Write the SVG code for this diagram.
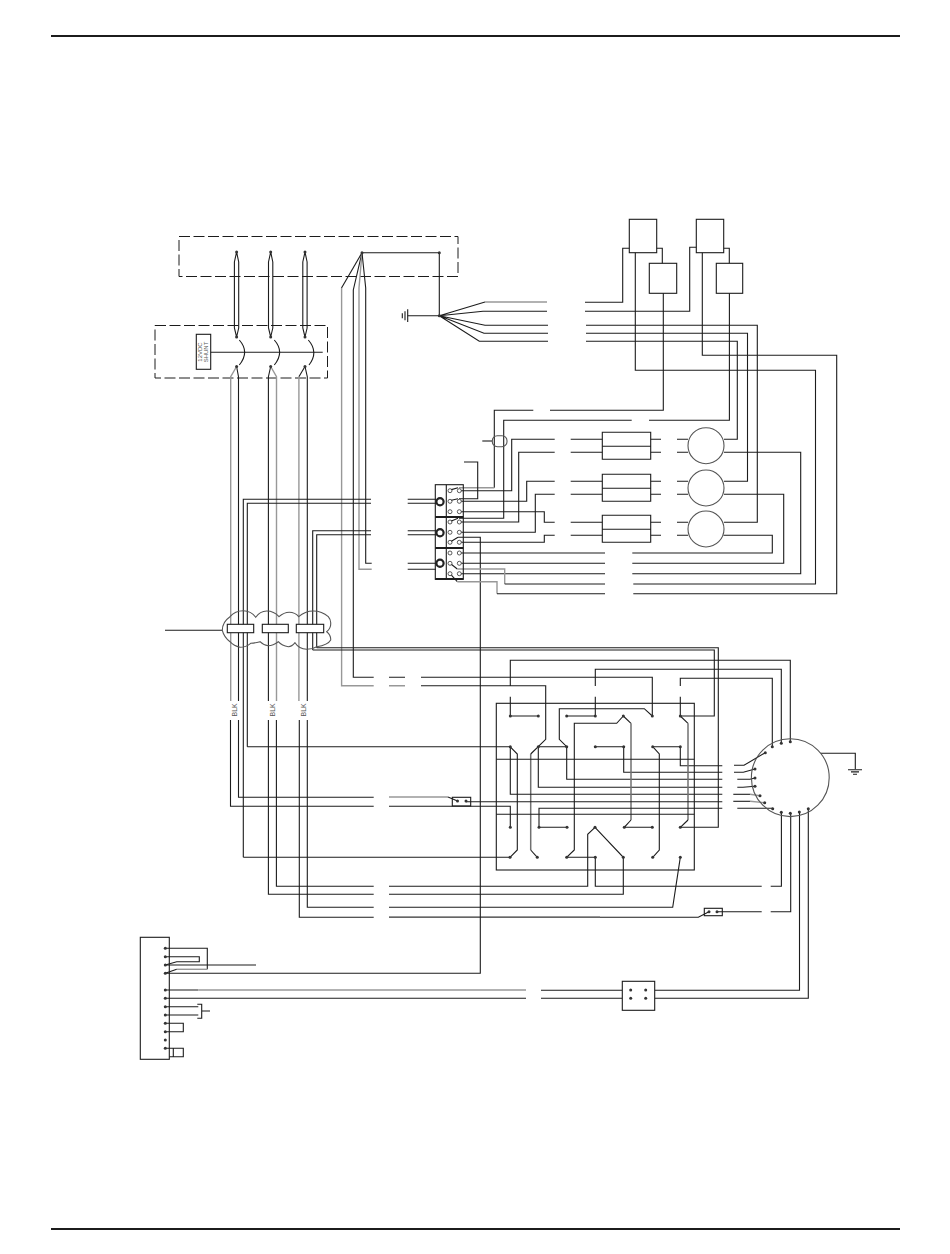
<svg xmlns="http://www.w3.org/2000/svg" width="950" height="1254" viewBox="0 0 950 1254">
<style>
.w{fill:none;stroke:#1c1c1c;stroke-width:1.1;stroke-linejoin:miter}
.g{fill:none;stroke:#989898;stroke-width:1.4}
.gt{fill:none;stroke:#707070;stroke-width:1.5}
.b{fill:#fff;stroke:#1c1c1c;stroke-width:1.1}
.nb{fill:none;stroke:#1c1c1c;stroke-width:1.1}
.d{fill:none;stroke:#1c1c1c;stroke-width:1;stroke-dasharray:11 3.5}
.c{fill:none;stroke:#555;stroke-width:1.1}
.t{fill:#fff;stroke:#333;stroke-width:.8}
.r{fill:#fff;stroke:#222;stroke-width:2.2}
.l{font-family:"Liberation Sans",Arial,sans-serif;fill:#555}
.f{fill:none;stroke:#1c1c1c;stroke-width:2}
circle.p{fill:#333;stroke:none}
</style>
<defs><circle id="p" class="p" r="1.5"/></defs>

<g id="page-rules">
<path class="f" d="M51 36H900M51 1229H900"/>
</g>

<g id="box-upper"><rect class="d" x="179" y="236.5" width="279" height="40"/></g>
<g id="box-lower"><rect class="d" x="155" y="325.5" width="172.5" height="52.5"/></g>

<g id="shunt">
<rect class="b" x="196.3" y="334.3" width="14.4" height="35"/>
<text class="l" font-size="6" transform="translate(201.5 352) rotate(-90)" text-anchor="middle">12VDC</text>
<text class="l" font-size="6" transform="translate(208.3 352) rotate(-90)" text-anchor="middle">SHUNT</text>
</g>

<g id="connectors">
<path class="w" d="M236.6 252L234.4 262V328L236.6 337M236.6 252L238.7 262V328L236.6 337"/>
<path class="w" d="M270.7 252L268.5 262V328L270.7 337M270.7 252L272.8 262V328L270.7 337"/>
<path class="w" d="M305 252L302.8 262V328L305 337M305 252L307.1 262V328L305 337"/>
<path class="w" d="M210.7 352.3H322.7"/>
<path class="w" d="M239.3 340Q250 352 239.3 365M274.3 340Q285 352 274.3 365M308.3 340Q319 352 309 365"/>
<path class="w" d="M236.6 366.5L238.5 376.7V701M238.5 720V797.3H373.7"/>
<path class="g" d="M236.6 366.5L230.7 376.7V701"/><path class="w" d="M230.5 720V806.3H373.7"/>
<path class="w" d="M270.7 366.5L268.4 376.7V701M268.4 720V894.3H373.7"/>
<path class="g" d="M270.7 366.5L276.5 376.7V701"/><path class="w" d="M276.4 720V886.3H373.7"/>
<path class="w" d="M305 366.5L298.9 376.7"/><path class="g" stroke-width="1.6" d="M298.9 376.7V701"/><path class="w" d="M299.3 720V917.3H373.7"/>
<path class="w" d="M305 366.5L307.3 376.7V701M307.3 720V907.3H373.7"/>
<path class="g" d="M389 797H448"/><path class="w" d="M448 797L457.5 801"/>
<path class="w" d="M389 806.3H510.3V827.3"/>
<path class="w" d="M389 886.3H587.7V834.3L595 827.3M595 827.3L623.3 857.3V894.3H389"/>
<path class="w" d="M389 907.3H672.7L680.3 857.3"/>
<path class="w" d="M389 917.3H698.3L709 911.7"/>
<path class="g" stroke-width=".8" d="M389 916.6H600"/>
<path class="w" d="M362 252.7H439.3V315.7H407.7"/>
<path class="w" d="M362 252.7L341.5 288"/><path class="g" d="M341.6 288V685.7H373.7M389 685.7H405"/>
<path class="w" d="M421 685.7H545.7V739.3L530.7 754"/><path class="gt" d="M530.7 754V850"/><path class="w" d="M530.7 850L537.3 857.3"/>
<path class="w" d="M362 252.7L353.3 290V677.3H373.7M389 677.3H405M421 677.3H652.3V716"/>
<path class="g" d="M362 252.7L359 288V569.3H371.7"/>
<path class="w" d="M362 252.7L365.7 288V563.3H371.7"/>
<path class="w" d="M407.7 563.3H436M407.7 569.3H436"/>
<path class="g" d="M485 302H547"/>
<path class="w" d="M439.3 315.7L485 302M439.3 315.7L483 311.3H547M439.3 315.7L485 325.3H548M439.3 315.7L484 333.3H548M439.3 315.7L479.3 341.3H548"/>
<path class="w" d="M585 302.3H622.7V248.3H629.3M585 311.3H689.7V247.3H696.3"/>
<path class="w" d="M656.7 248.3H662.3V263.3M723.7 248.3H729.3V263.3"/>
<path class="w" d="M586 325.3H757.3V522.3H724M586 333.3H747.5V481.3H724M586 341.3H737.3V439.3H724"/>
<path class="w" d="M635.3 252.7V370.3H815.5V584H633.3"/>
<path class="w" d="M702.3 252.7V355.3H836.7V593.7H633.3"/>
<path class="w" d="M663.3 293.3V410.3H550M533.3 410.3H494.3V487.7"/>
<path class="w" d="M729.4 293.3V420.3H649M631.7 420.3H503.7V518.3H459"/>
<path class="w" d="M482.3 441H492.3"/>
<path class="g" d="M459 487.7H494.3"/>
<path class="w" d="M461 490.7H511.7V439.3H554.7M570.7 439.3H602.3"/>
<path class="w" d="M461 501.3H526.7V481.3H554.7M570.7 481.3H602.3"/>
<path class="w" d="M459 498.7H477.7V462H464"/>
<path class="w" d="M461 511.7H544.3V522.3H554.7M570.7 522.3H602.3"/>
<path class="w" d="M461 522H518.7V452.3H554.7M570.7 452.3H602.3"/>
<path class="w" d="M461 532.3H535.3V494.3H554.7M570.7 494.3H602.3"/>
<path class="w" d="M461 542.3H544.3V535.3H554.7M570.7 535.3H602.3"/>
<path class="w" d="M458 537.3H480.3V973.3H165.3"/>
<path class="w" d="M461 553H605M632.3 553H772.3V535.3H723.5"/>
<path class="w" d="M461 563.3H605M632.3 563.3H783.7V494.3H724"/>
<path class="w" d="M461 573.7H605M632.3 573.7H800.7V452.3H724"/>
<path class="w" d="M450 563.3L457.3 569"/><path class="g" d="M457.3 569H504.7V584"/><path class="w" d="M504.7 584H605"/>
<path class="w" d="M450 573.7L457.3 581.7"/><path class="g" d="M457.3 581.7H497V593.7"/><path class="w" d="M497 593.7H605"/>
<path class="w" d="M650.7 439.3H661M677 439.3H688M650.7 452.3H661M677 452.3H688M650.7 481.3H661M677 481.3H688M650.7 494.3H661M677 494.3H688M650.7 522.3H661M677 522.3H688M650.7 535.3H661M677 535.3H688"/>
<path class="w" d="M243.3 857.3V499.3H371M407.7 499.3H436M243.3 857.3H510"/>
<path class="w" d="M247.3 746.7V503.3H371M407.7 503.3H436M247.3 746.7H510"/>
<path class="w" d="M312.7 650V530.7H371M407.7 530.7H436M312.7 650H714.3V716H680.3"/>
<path class="w" d="M316.7 647.7V534.7H371M407.7 534.7H436M316.7 647.7H718.3V827.3H680.3"/>
<path class="w" d="M165 630.3H222.3"/>
<path class="w" d="M510.3 686V660.3H790.3V741.7M595.3 686V669.3H781.3V743.3M680.3 686V678.3H772.3V746.7"/>
<path class="w" d="M510.3 696.7V716H538.3M595.3 696.7V716H566.7M680.3 696.7V716"/>
<path class="w" d="M652.3 716L644.3 708.7H559.3V739.3L566.7 746.7H538.3"/>
<path class="w" d="M566.7 746.7V779.3H722.3M538.3 746.7V787.3H722.3"/>
<path class="w" d="M510.3 746.7V794.3H722.3"/>
<path class="w" d="M595.3 746.7H623.7V772.3H722.3M652.7 746.7H680.3V765.7H722.3"/>
<path class="w" d="M510 746.7L517.3 754V850L510 857.3"/>
<path class="w" d="M652.7 746.7L659.3 754V850L652.7 857.3"/>
<path class="w" d="M680.3 716L688 723.3"/><path class="gt" d="M688 723.3V820"/><path class="w" d="M688 820L680.3 827.3"/>
<path class="w" d="M623.3 716L631 723.3"/><path class="gt" d="M631 723.3V820"/><path class="w" d="M631 820L624.3 827.3H652.3"/>
<path class="w" d="M623.3 716L616.7 723.3H574.3V850L566.7 857.3H595.3V886.3H761.7M770.7 886.3H781.4V812.3"/>
<path class="w" d="M539 827.3H567M539 827.3V808.3H722.3"/>
<path class="w" d="M466 801.7H722.3"/>
<path class="w" d="M496.3 759.3H694.3M496.3 814.3H694.3"/>
<path class="w" d="M734 765.3H744L765.3 752.7M734 772.3H743.3L755 769M737.3 779.3H750L755 778M737.3 787.3H743L755 786.3"/>
<path class="w" d="M733.3 794.3H750"/><path class="g" d="M750 794.3L760 795.7"/>
<path class="w" d="M733.3 801.3H750"/><path class="g" d="M750 801.3L764.7 802.7"/>
<path class="w" d="M737.3 808.3H772.7"/>
<path class="w" d="M820.7 753.3H855.3V769.3"/>
<path class="w" d="M717 911.7H761.7M770.7 911.7H790.7V813.3"/>
<path class="w" d="M799.5 812V990.3H654.7M622.3 990.3H541"/>
<path class="w" d="M808.3 808.7V998.3H654.7M622.3 998.3H541"/>
<path class="w" d="M165.3 948.3H207.3V969.3"/><path class="g" stroke-width="1.6" d="M207.3 969.3H176.7"/><path class="w" d="M176.7 969.3L165.3 973.3"/>
<path class="w" d="M165.3 956.7H199.3V961.7H176.7L165.3 965"/>
<path class="w" d="M165.3 965H256"/>
<path class="w" d="M165.3 990H198.3"/><path class="g" stroke-width="1.6" d="M198.3 990H526"/>
<path class="w" d="M165.3 998.3H526"/>
<path class="w" d="M165.3 1006.7H198.3M165.3 1015H198.3M197.3 1004.3H201.7V1018.3H197.3M201.7 1011H210"/>
<path class="w" d="M165.3 1023.3H183.3V1031.7H165.3"/>
<path class="w" d="M165.3 1048.3H183.3V1056.7H169.3M173.3 1048.3V1056.7"/>
</g>

<g id="ground-left"><path class="w" d="M407.7 309.3V322M405 311.3V320.3M402.3 313.3V318.3"/></g>
<g id="ground-right"><path class="w" d="M848 769.7H862M851 771.9H859M853 774.2H857"/></g>

<g id="lead-terminals">
<use href="#p" x="236.6" y="252"/><use href="#p" x="270.7" y="252"/><use href="#p" x="305" y="252"/>
<use href="#p" x="236.6" y="337"/><use href="#p" x="270.7" y="337"/><use href="#p" x="305" y="337"/>
<use href="#p" x="236.6" y="366.5"/><use href="#p" x="270.7" y="366.5"/><use href="#p" x="305" y="366.5"/>
<use href="#p" x="362" y="252.7"/><use href="#p" x="439.3" y="252.7"/><use href="#p" x="439.3" y="315.7"/>
</g>

<g id="labels-blk">
<text class="l" font-size="7" transform="translate(236.5 716.5) rotate(-90)">BLK</text>
<text class="l" font-size="7" transform="translate(274.7 716.5) rotate(-90)">BLK</text>
<text class="l" font-size="7" transform="translate(305.5 716.5) rotate(-90)">BLK</text>
</g>

<g id="relay-1a"><rect class="nb" x="629.3" y="219.3" width="27.4" height="33.4"/></g>
<g id="relay-1b"><rect class="nb" x="649.3" y="263.3" width="27.4" height="30"/></g>
<g id="relay-2a"><rect class="nb" x="696.3" y="219.3" width="27.4" height="33.4"/></g>
<g id="relay-2b"><rect class="nb" x="716.3" y="263.3" width="26.4" height="30"/></g>

<g id="fuse-holder"><rect class="c" x="492.3" y="435.7" width="14.7" height="11" rx="5"/></g>

<g id="coil-1"><path class="nb" d="M602.3 432.3H650.7V459.3H602.3ZM602.3 446.3H650.7"/></g>
<g id="coil-2"><path class="nb" d="M602.3 474.3H650.7V501.3H602.3ZM602.3 488.3H650.7"/></g>
<g id="coil-3"><path class="nb" d="M602.3 515.3H650.7V542.3H602.3ZM602.3 529.3H650.7"/></g>

<g id="capacitor-1"><circle class="c" cx="706" cy="445.7" r="18"/></g>
<g id="capacitor-2"><circle class="c" cx="706" cy="488" r="18"/></g>
<g id="capacitor-3"><circle class="c" cx="706" cy="529" r="18"/></g>

<g id="terminal-block">
<rect class="nb" x="435.3" y="484.7" width="28" height="94.6"/>
<path class="nb" d="M446.3 484.7V579.3"/>
<path class="f" d="M435.3 517H463.3M435.3 548H463.3M435.3 579H463.3"/>
<circle class="r" cx="440" cy="501.7" r="3.6"/><circle class="r" cx="440" cy="532.7" r="3.6"/><circle class="r" cx="440" cy="563.3" r="3.6"/>
<circle class="t" cx="450" cy="490.7" r="2"/><circle class="t" cx="459.3" cy="490.7" r="2"/>
<circle class="t" cx="450" cy="501.3" r="2"/><circle class="t" cx="459.3" cy="501.3" r="2"/>
<circle class="t" cx="450" cy="511.7" r="2"/><circle class="t" cx="459.3" cy="511.7" r="2"/>
<circle class="t" cx="450" cy="522" r="2"/><circle class="t" cx="459.3" cy="522" r="2"/>
<circle class="t" cx="450" cy="532.3" r="2"/><circle class="t" cx="459.3" cy="532.3" r="2"/>
<circle class="t" cx="450" cy="542.3" r="2"/><circle class="t" cx="459.3" cy="542.3" r="2"/>
<circle class="t" cx="450" cy="553" r="2"/><circle class="t" cx="459.3" cy="553" r="2"/>
<circle class="t" cx="450" cy="563.3" r="2"/><circle class="t" cx="459.3" cy="563.3" r="2"/>
<circle class="t" cx="450" cy="573.7" r="2"/><circle class="t" cx="459.3" cy="573.7" r="2"/>
<path class="w" d="M451.4 489.6L458 487.7M451.4 500.2L458 498.7M451.4 520.9L458 518.3M451.4 541.2L458 537.3"/>
</g>

<g id="cable-clamp">
<path class="c" d="M222.3 630.3Q222.3 622 230 616.7Q235 610.7 243.3 610.7Q251 610.7 255.7 617.3Q260 611 266.7 611Q274 611 279 616.7Q284 612.3 289.3 612.3Q295 612.3 298.7 616.7Q305 611 313.3 611Q322 611 328.3 616.7Q331 620 330.7 623.3Q331 628 326.7 631.7Q331 635 330.7 640Q328 645 316.7 646.7Q312 649.3 306.7 649.3Q299 649 295 642.7Q292 646.7 288.3 646.7Q282 646 278.3 641.7Q273 645.7 268.3 645.7Q263 645 260 641.7Q255 643 250.7 643.3Q246 647.3 240 647.3Q234 646 230 641.7Q224 637 222.3 630.3Z"/>
<rect class="b" x="227.3" y="624.3" width="26.4" height="8.4"/>
<rect class="b" x="262.3" y="624.3" width="26" height="8.4"/>
<rect class="b" x="296.3" y="624.3" width="27.4" height="8.4"/>
</g>

<g id="panel">
<rect class="nb" x="496.3" y="703.3" width="198" height="166.7"/>
<use href="#p" x="510.3" y="716"/><use href="#p" x="538.3" y="716"/><use href="#p" x="566.7" y="716"/><use href="#p" x="595.3" y="716"/><use href="#p" x="623.3" y="716"/><use href="#p" x="652.3" y="716"/><use href="#p" x="680.3" y="716"/>
<use href="#p" x="510.3" y="746.7"/><use href="#p" x="538.3" y="746.7"/><use href="#p" x="566.7" y="746.7"/><use href="#p" x="595.3" y="746.7"/><use href="#p" x="623.7" y="746.7"/><use href="#p" x="652.7" y="746.7"/><use href="#p" x="680.3" y="746.7"/>
<use href="#p" x="510.3" y="827.3"/><use href="#p" x="539" y="827.3"/><use href="#p" x="567" y="827.3"/><use href="#p" x="595" y="827.3"/><use href="#p" x="624.3" y="827.3"/><use href="#p" x="652.3" y="827.3"/><use href="#p" x="680.3" y="827.3"/>
<use href="#p" x="510" y="857.3"/><use href="#p" x="537.3" y="857.3"/><use href="#p" x="566.7" y="857.3"/><use href="#p" x="595.3" y="857.3"/><use href="#p" x="623.3" y="857.3"/><use href="#p" x="652.7" y="857.3"/><use href="#p" x="680.3" y="857.3"/>
</g>

<g id="switch-1">
<rect class="nb" x="452.3" y="797.3" width="18.4" height="8.7"/>
<use href="#p" x="457.5" y="801"/><use href="#p" x="466" y="801"/>
</g>
<g id="switch-2">
<rect class="nb" x="704.3" y="908.3" width="18" height="7.4"/>
<use href="#p" x="709" y="911.7"/><use href="#p" x="717" y="911.7"/>
</g>

<g id="motor">
<circle class="c" cx="790.3" cy="777.7" r="38.9"/>
<use href="#p" x="772.3" y="746.7"/><use href="#p" x="781.3" y="743.3"/><use href="#p" x="790.3" y="741.7"/>
<use href="#p" x="765.3" y="752.7"/><use href="#p" x="755" y="769"/><use href="#p" x="755" y="778"/><use href="#p" x="755" y="786.3"/><use href="#p" x="760" y="795.7"/><use href="#p" x="764.7" y="802.7"/><use href="#p" x="772.7" y="808.7"/>
<use href="#p" x="781.3" y="812.3"/><use href="#p" x="790.3" y="813.3"/><use href="#p" x="799.3" y="812"/><use href="#p" x="808.3" y="808.7"/>
</g>

<g id="relay-box">
<rect class="b" x="622.3" y="981.3" width="32.4" height="29"/>
<use href="#p" x="630.7" y="990"/><use href="#p" x="645.7" y="990"/><use href="#p" x="630.7" y="998.3"/><use href="#p" x="645.7" y="998.3"/>
</g>

<g id="terminal-strip">
<rect class="nb" x="140.3" y="937.3" width="29" height="122"/>
<use href="#p" x="165.3" y="948.3"/><use href="#p" x="165.3" y="956.7"/><use href="#p" x="165.3" y="965"/><use href="#p" x="165.3" y="973.3"/><use href="#p" x="165.3" y="990"/><use href="#p" x="165.3" y="998.3"/><use href="#p" x="165.3" y="1006.7"/><use href="#p" x="165.3" y="1015"/><use href="#p" x="165.3" y="1023.3"/><use href="#p" x="165.3" y="1031.7"/><use href="#p" x="165.3" y="1040"/><use href="#p" x="165.3" y="1048.3"/>
</g>
</svg>
